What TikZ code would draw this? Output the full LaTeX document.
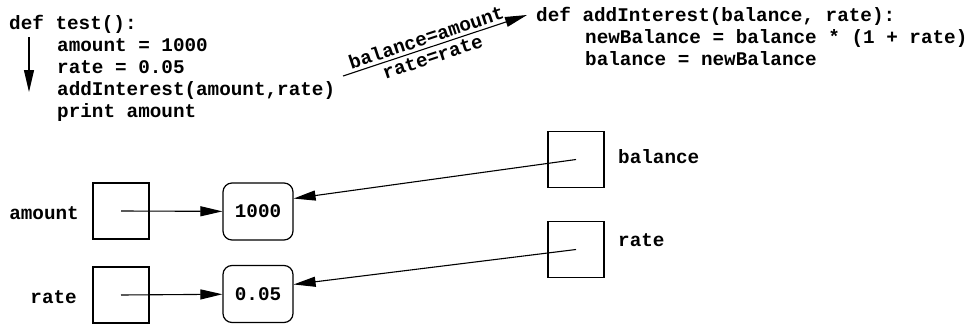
\documentclass[tikz,border=0pt]{standalone}
\usepackage{fontspec}
\setmonofont{Liberation Mono}
\usetikzlibrary{arrows.meta,positioning}

\begin{document}
\begin{tikzpicture}[x=1pt,y=-1pt]
	\tikzset{every node/.style={font=\ttfamily\bfseries\fontsize{19.3}{22}\selectfont},
		code/.style={anchor=base west,inner sep=0pt},
		cell/.style={draw,line width=1.2pt,minimum size=56pt,inner sep=0pt},
		val/.style={draw,line width=1.2pt,rounded corners=9pt,minimum width=70pt,minimum height=57pt,inner sep=0pt},
		ptr/.style={line width=1.1pt,-{Triangle[length=22pt,width=10pt]}}}
	\useasboundingbox (0,0) rectangle (968,324);
	% caller
	\node[code] (t0) at (9,29) {def test():};
	\node[code] (t1) at (57,51) {amount = 1000};
	\node[code] (t2) at (57,73) {rate = 0.05};
	\node[code] (t3) at (57,95) {addInterest(amount,rate)};
	\node[code] (t4) at (57,117) {print amount};
	% callee
	\node[code] (f0) at (536,21) {def addInterest(balance, rate):};
	\node[code] (f1) at (585,43) {newBalance = balance * (1 + rate)};
	\node[code] (f2) at (585,65) {balance = newBalance};
	\coordinate (flow0) at (29,37);
	\coordinate (flow1) at (29,92);
	\coordinate (call0) at (343,76);
	\coordinate (call1) at (527,15);
	% memory
	\node[cell] (amt) at (121,211) {};
	\node[cell] (rt) at (121,295) {};
	\node[val] (v1000) at (258,211.5) {1000};
	\node[val] (v005) at (258,294) {0.05};
	\node[cell] (bal) at (576,159.5) {};
	\node[cell] (rt2) at (576,249.5) {};
	\node[anchor=east,inner sep=0pt] (amtname) at (79,213) {amount};
	\node[anchor=east,inner sep=0pt] (rtname) at (77,297) {rate};
	\node[anchor=west,inner sep=0pt] (balname) at (618,157) {balance};
	\node[anchor=west,inner sep=0pt] (rt2name) at (618,240) {rate};
	\path[ptr]
		(flow0) edge (flow1)
		(call0) edge node[sloped,above,pos=0.47,inner sep=3pt] {balance=amount}
			node[sloped,below,pos=0.47,inner sep=3pt] {rate=rate} (call1)
		(amt.center) edge (v1000)
		(rt.center) edge (v005)
		(bal.center) edge (v1000.20)
		(rt2.center) edge (v005.15);
\end{tikzpicture}
\end{document}
